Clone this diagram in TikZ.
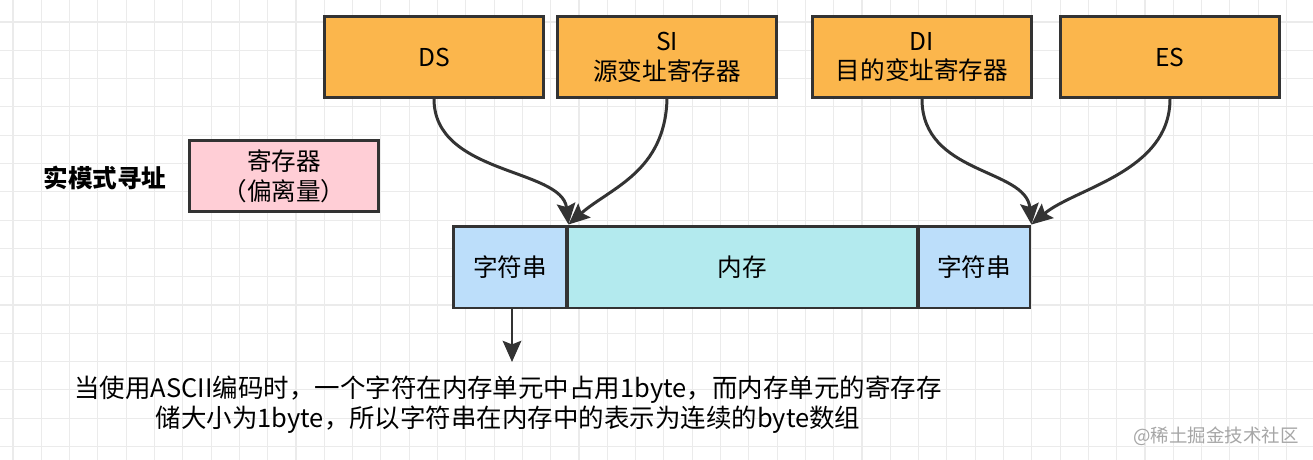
\documentclass[tikz,border=0pt]{standalone}
\usepackage{fontspec}
\setmainfont{Noto Sans CJK SC}
\usepackage{tikz}
\usetikzlibrary{arrows.meta, positioning}

\definecolor{regorange}{RGB}{251,182,76}
\definecolor{offpink}{RGB}{255,206,214}
\definecolor{strblue}{RGB}{188,222,250}
\definecolor{memcyan}{RGB}{179,234,238}
\definecolor{edge}{RGB}{51,51,51}

\begin{document}
\begin{tikzpicture}[x=0.02cm, y=-0.02cm,
		gridline/.style={draw=black!8, line width=0.6pt},
		reg/.style={draw=edge, line width=1.7pt, fill=regorange, minimum width=4.4cm, minimum height=1.62cm, align=center, font=\fontsize{14}{17}\selectfont},
		offbox/.style={draw=edge, line width=1.7pt, fill=offpink, minimum width=3.8cm, minimum height=1.42cm, align=center, font=\fontsize{14}{17}\selectfont},
		cell/.style={draw=edge, line width=1.7pt, minimum height=1.64cm, inner sep=0pt, font=\fontsize{14}{17}\selectfont},
		arrow/.style={-{Stealth[length=12pt, width=10.5pt, inset=2pt]}, line width=1.7pt, draw=edge}
		]
		
		% background grid
		\useasboundingbox (0,0) rectangle (1313,460);
		\fill[white] (0,0) rectangle (1313,460);
		\foreach \i in {0,...,46} \draw[gridline] ({13+28.3*\i},0) -- ({13+28.3*\i},460);
		\foreach \j in {0,...,15} \draw[gridline] (0,{22+28.3*\j}) -- (1313,{22+28.3*\j});
		
		% segment registers
		\node[reg] (ds) at (434,57) {DS};
		\node[reg] (si) at (667,57) {SI\\源变址寄存器};
		\node[reg] (di) at (922,57) {DI\\目的变址寄存器};
		\node[reg] (es) at (1170,57) {ES};
		
		% left side
		\node[font=\fontsize{14}{17}\selectfont\bfseries] (title) at (105,178) {实模式寻址};
		\node[offbox] (offset) at (284,176) {寄存器\\（偏离量）};
		
		% memory row
		\node[cell, fill=strblue, minimum width=2.28cm] (strl) at (510,267) {字符串};
		\node[cell, fill=memcyan, minimum width=7.02cm] (mem) at (742.5,267) {内存};
		\node[cell, fill=strblue, minimum width=2.24cm] (strr) at (974,267) {字符串};
		
		\draw[arrow] (ds.south) .. controls (434,175) and (562,168) .. (strl.north east);
		\draw[arrow] (si.south) .. controls (665,172) and (610,188) .. (strl.north east);
		\draw[arrow] (di.south) .. controls (922,175) and (1026,168) .. (strr.north east);
		\draw[arrow] (es.south) .. controls (1170,172) and (1075,188) .. (strr.north east);
		
		% note below
		\coordinate (down) at (512,362);
		\draw[arrow] (strl.south -| down) -- (down);
		\node[align=center, font=\fontsize{14.5}{17}\selectfont, anchor=north] (note) at (508,370) {当使用ASCII编码时，一个字符在内存单元中占用1byte，而内存单元的寄存存\\储大小为1byte，所以字符串在内存中的表示为连续的byte数组};
		
		\node[text=black!35, font=\fontsize{10.5}{12}\selectfont] (mark) at (1216,436) {@稀土掘金技术社区};
	\end{tikzpicture}
\end{document}
